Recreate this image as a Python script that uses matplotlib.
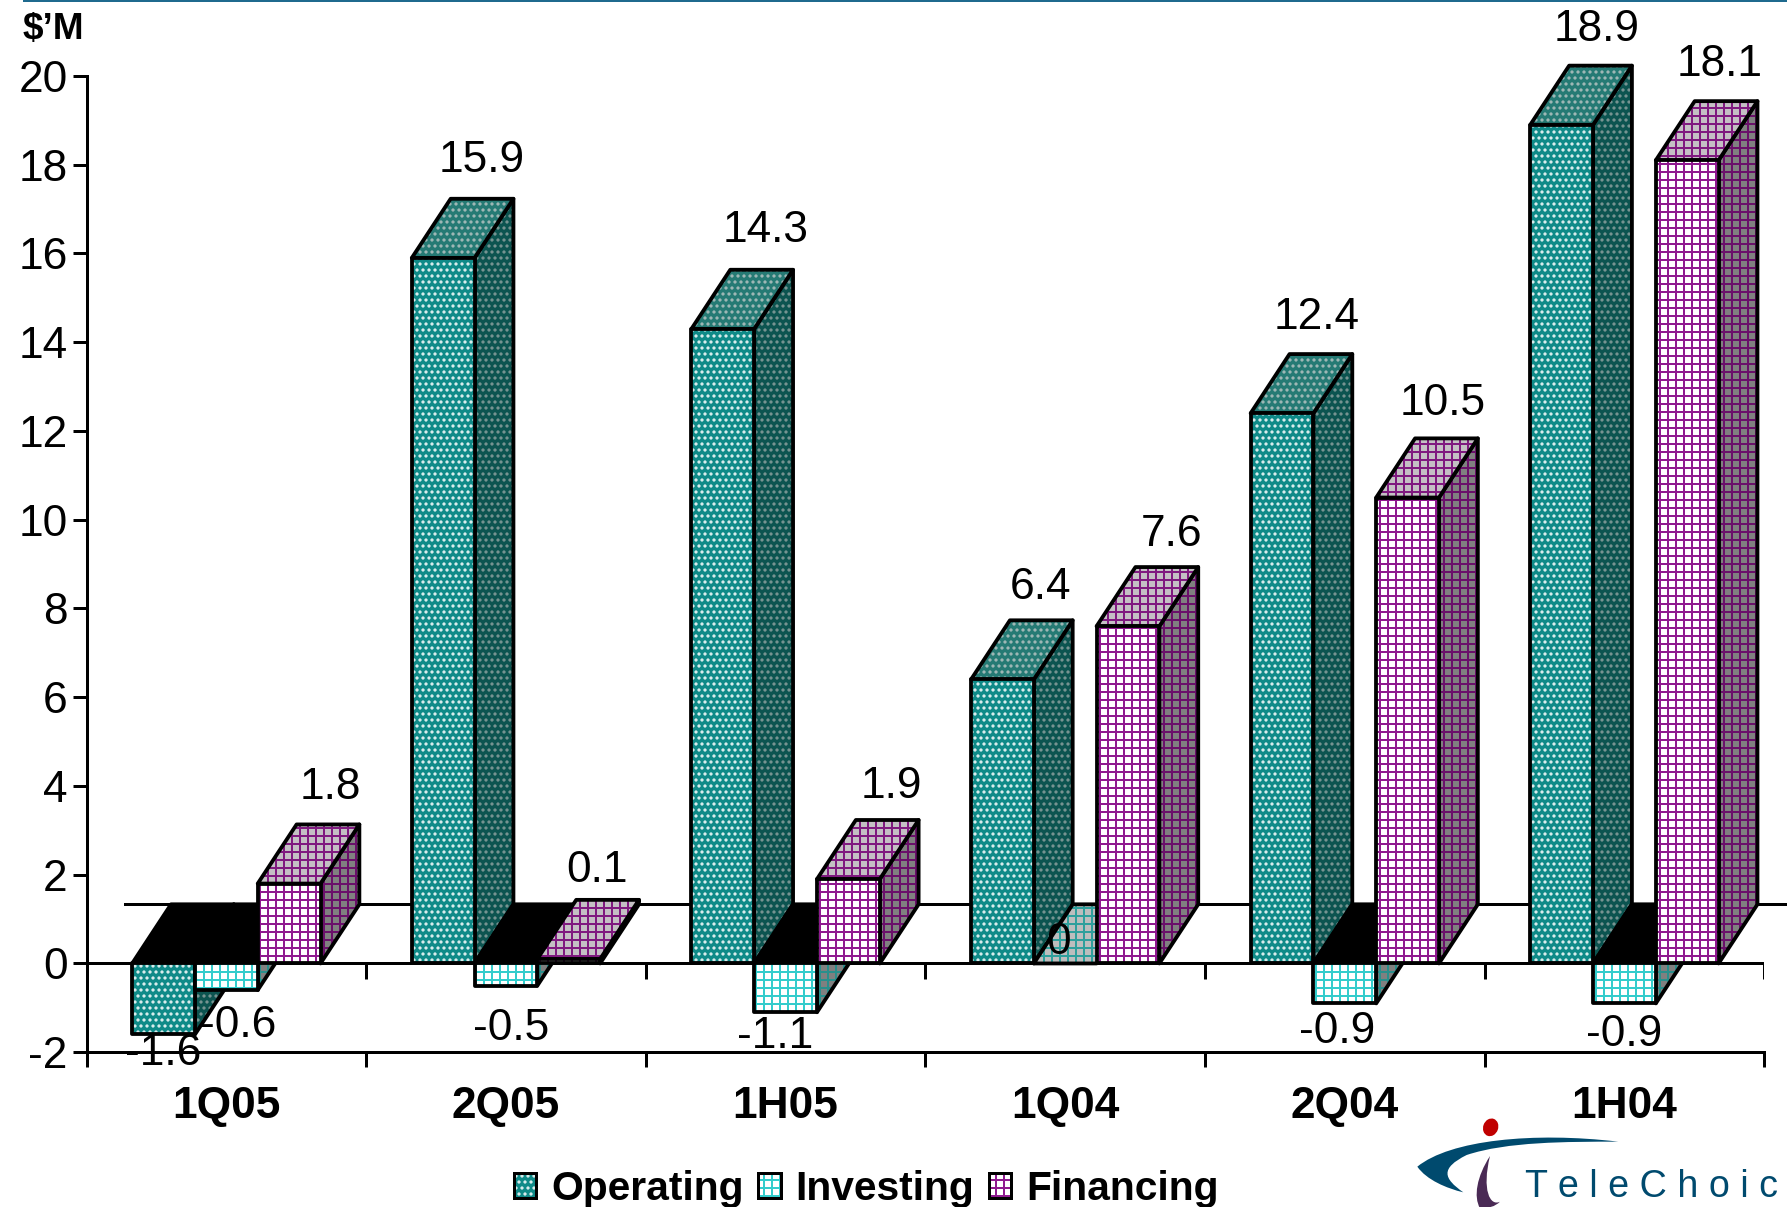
# pylint: disable=line-too-long
"""
Cash flow by activity, 3D style bars drawn by hand on a 2D axes.
"""
import matplotlib
matplotlib.use("Agg")
import matplotlib.pyplot as plt
from matplotlib.legend_handler import HandlerTuple
from matplotlib.patches import Ellipse, Patch, PathPatch, Polygon
from matplotlib.path import Path
from matplotlib.transforms import IdentityTransform

W, H, DPI = 1787, 1207, 144

categories = ["1Q05", "2Q05", "1H05", "1Q04", "2Q04", "1H04"]
operating = [-1.6, 15.9, 14.3, 6.4, 12.4, 18.9]
investing = [-0.6, -0.5, -1.1, 0, -0.9, -0.9]
financing = [1.8, 0.1, 1.9, 7.6, 10.5, 18.1]
y_ticks = [-2, 0, 2, 4, 6, 8, 10, 12, 14, 16, 18, 20]

# label offsets from the top/bottom of the front face, in pixels
op_nudge = [(0, -19), (39, 97), (43, 98), (38, 92), (35, 96), (35, 95)]
inv_nudge = [(12, -35), (5, -43), (-10, -24), (-7, 21), (-8, -28), (0, -31)]
fin_nudge = [(41, 96), (28, 89), (43, 93), (44, 92), (35, 94), (32, 96)]

BAR_W = 0.2245
GAP = 0.163
DX = 0.139
DY = 1.333

plt.rcParams["font.family"] = ["Liberation Sans", "DejaVu Sans"]
plt.rcParams["hatch.linewidth"] = 1.0
plt.rcParams["axes.unicode_minus"] = False

STYLES = {
    "op": {"hatch": "....",
           "front": ("#0f8a88", "#e8f4f4"), "top": ("#257a74", "#a8bcba"), "side": ("#0c5450", "#7f9896")},
    "inv": {"hatch": "+++",
            "front": ("#ffffff", "#33cccc"), "top": ("#bdbdbd", "#2f9f9c"), "side": ("#808080", "#2a8f8c")},
    "fin": {"hatch": "+++",
            "front": ("#ffffff", "#8f1a8f"), "top": ("#c4c0c4", "#7f1a7f"), "side": ("#808080", "#6a106a")},
}

fig = plt.figure(figsize=(W / DPI + 0.0001, H / DPI + 0.0001), dpi=DPI, facecolor="white")
ax = fig.add_axes([86.6 / W, (H - 1052.2) / H, (1764.3 - 86.6) / W, (1052.2 - 76) / H])
ax.set_xlim(0, 6)
ax.set_ylim(-2, 20)


def face(pts, kind, part, z):
    fc, hc = STYLES[kind][part]
    ax.add_patch(Polygon(pts, closed=True, facecolor=fc, edgecolor=hc, hatch=STYLES[kind]["hatch"],
                         linewidth=0, zorder=z, clip_on=False))
    ax.add_patch(Polygon(pts, closed=True, fill=False, edgecolor="black", linewidth=1.9,
                         joinstyle="round", zorder=z, clip_on=False))


def top_black(x0, z):
    ax.add_patch(Polygon([(x0, 0), (x0 + DX, DY), (x0 + BAR_W + DX, DY), (x0 + BAR_W, 0)], closed=True,
                         facecolor="black", edgecolor="black", linewidth=1.9, joinstyle="round", zorder=z, clip_on=False))


def draw_bar(x0, v, kind, z):
    x1 = x0 + BAR_W
    if v > 0:
        face([(x1, 0), (x1 + DX, DY), (x1 + DX, v + DY), (x1, v)], kind, "side", z)
        face([(x0, v), (x0 + DX, v + DY), (x1 + DX, v + DY), (x1, v)], kind, "top", z + 0.1)
        face([(x0, 0), (x1, 0), (x1, v), (x0, v)], kind, "front", z + 0.2)
    elif v == 0:
        face([(x0, 0), (x0 + DX, DY), (x1 + DX, DY), (x1, 0)], kind, "top", z)
    else:
        face([(x1, v), (x1, 0), (x1 + DX, DY), (x1 + DX, v + DY)], kind, "side", z)
        top_black(x0, z + 0.1)
        face([(x0, v), (x1, v), (x1, 0), (x0, 0)], kind, "front", z + 0.2)


# back wall line and the two horizontal axes
ax.plot([DX, 6 + 0.08], [DY, DY], color="black", lw=1.5, zorder=1, clip_on=False)
ax.axhline(0, color="black", lw=1.5, zorder=1)
ax.vlines(range(0, 7), -0.36, 0, color="black", lw=1.5, zorder=1)

for i in range(len(categories)):
    base = i + GAP
    draw_bar(base, operating[i], "op", 10 + i)
    draw_bar(base + BAR_W, investing[i], "inv", 10.4 + i)
    draw_bar(base + 2 * BAR_W, financing[i], "fin", 10.7 + i)
    for j, (vals, nudge) in enumerate([(operating, op_nudge), (investing, inv_nudge), (financing, fin_nudge)]):
        ax.annotate(str(vals[i]), xy=(base + (j + 0.5) * BAR_W, vals[i]), xytext=nudge[i],
                    textcoords="offset pixels", ha="center", va="center", fontsize=22.1,
                    color="black", zorder=30, annotation_clip=False)

for name in ["top", "right"]:
    ax.spines[name].set_visible(False)
ax.spines["left"].set_linewidth(1.5)
ax.spines["bottom"].set_linewidth(1.5)

ax.set_yticks(y_ticks)
ax.tick_params(axis="y", length=7, width=1.5, pad=2.5, labelsize=22.1)
ax.set_xticks(range(0, 7))
ax.set_xticklabels([])
ax.tick_params(axis="x", which="major", length=7.5, width=1.5)
ax.set_xticks([i + 0.5 for i in range(6)], minor=True)
ax.set_xticklabels(categories, minor=True, fontsize=22.1, fontweight="bold")
ax.tick_params(axis="x", which="minor", length=0, pad=17)

handles = [Patch(facecolor=STYLES[k]["front"][0], edgecolor=STYLES[k]["front"][1], hatch=STYLES[k]["hatch"]) for k in ["op", "inv", "fin"]]
outline = [Patch(fill=False, edgecolor="black", linewidth=1.5) for _ in handles]
fig.legend(list(zip(handles, outline)), ["Operating", "Investing", "Financing"], ncol=3, frameon=False,
           loc="center", bbox_to_anchor=(866 / W, (H - 1189) / H), handlelength=0.55, handleheight=0.55,
           handletextpad=0.36, columnspacing=0.36,
           prop={"weight": "bold", "size": 20.4},
           handler_map={tuple: HandlerTuple(ndivide=1, pad=0)})

fig.text(23 / W, 1 - 29 / H, "$\u2019M", fontsize=18.5, fontweight="bold", ha="left", va="center")

# rule across the top of the slide
fig.add_artist(plt.Line2D([24 / W, 1], [1 - 1 / H, 1 - 1 / H], color="#1f6a8e", lw=1))


# logo, coordinates are pixels from the top left of the slide
def px(x, y):
    return (x, H - y)


def logo(zx, zy):
    return px(1300 + zx / 3, 1000 + zy / 3)


swoosh = [logo(955, 425), logo(700, 395), logo(450, 420), logo(352, 500),
          logo(380, 540), logo(440, 565), logo(490, 577),
          logo(430, 535), logo(420, 505), logo(500, 465),
          logo(620, 425), logo(800, 425), logo(955, 425)]
codes = [Path.MOVETO] + [Path.CURVE4] * 12
fig.add_artist(PathPatch(Path(swoosh, codes), facecolor="#004a6e", edgecolor="none", transform=IdentityTransform()))
crescent = [logo(570, 468), logo(530, 530), logo(520, 590), logo(540, 625),
            logo(565, 625), logo(585, 620), logo(600, 605),
            logo(570, 620), logo(545, 570), logo(570, 468)]
fig.add_artist(PathPatch(Path(crescent, [Path.MOVETO] + [Path.CURVE4] * 9), facecolor="#4a2a55", edgecolor="none", transform=IdentityTransform()))
fig.add_artist(Ellipse(logo(572, 382), 15, 18, angle=-20, facecolor="#c00000", edgecolor="none", transform=IdentityTransform()))
fig.text(1525 / W, 1 - 1187 / H, "T e l e C h o i c", fontsize=18.8, color="#004a6e",
         family=["Liberation Sans Narrow", "Liberation Sans"], ha="left", va="center")

fig.savefig("out.png", dpi=DPI)
